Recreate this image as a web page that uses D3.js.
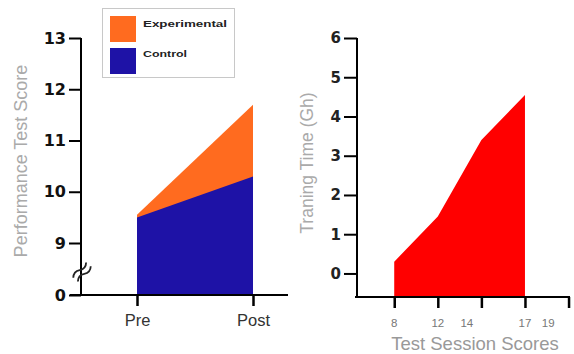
<!DOCTYPE html>
<html><head><meta charset="utf-8">
<script src="https://cdn.jsdelivr.net/npm/d3@7"></script>
<style>body{margin:0;background:#fff;} svg{display:block;font-family:"Liberation Sans",Arial,sans-serif;}</style>
</head><body>
<svg id="c" width="574" height="354"></svg>
<script>
// ---- Left chart data ----
const phases = ["Pre", "Post"];
const experimental = [9.55, 11.7];
const control = [9.5, 10.3];
const leftYTicks = [0, 9, 10, 11, 12, 13];
const legendLabels = ["Experimental", "Control"];
// ---- Right chart data ----
const sessionX = [8, 11, 14, 17];
const trainingTime = [0.3, 1.45, 3.4, 4.55];
const rightYTicks = [0, 1, 2, 3, 4, 5, 6];
const rightXTicks = [8, 11, 14, 17, 20];
const rightXLabelText = ["8", "12", "14", "17", "19"];
const rightXLabelAt = [8, 11, 13, 17, 18.6];

const colors = {exp: "#FF6B1F", ctrl: "#1E12A6", red: "#FF0000"};
const svg = d3.select("#c");
const boldFont = "'DejaVu Sans',sans-serif";

// ===== LEFT =====
const yL = d3.scaleLinear().domain([0, 9, 13]).range([295, 243, 38]);
const xL = d3.scalePoint().domain(phases).range([137, 253]);

const gL = svg.append("g");
const areaExp = d3.area().x((d,i)=>xL(phases[i])).y0(yL(0)).y1(d=>yL(d));
gL.append("path").datum(experimental).attr("d", areaExp).attr("fill", colors.exp);
gL.append("path").datum(control).attr("d", areaExp).attr("fill", colors.ctrl);

// y axis
const axL = gL.append("g").attr("transform","translate(81,0)")
  .call(d3.axisLeft(yL).tickValues(leftYTicks).tickFormat(d3.format("d")).tickSize(12).tickPadding(3).tickSizeOuter(0));
axL.select(".domain").attr("stroke-width",2).attr("d","M0,38V295");
axL.selectAll(".tick line").attr("stroke-width",2);
axL.selectAll(".tick text").attr("font-size",16).attr("font-weight","bold").attr("font-family",boldFont).attr("fill","#111");

// axis break mark
const brk = gL.append("g").attr("transform","translate(82,272) rotate(-50)");
[-3, 3].forEach(o=>{
  brk.append("path").attr("d",`M-10,${o} q5,-4 10,0 t10,0`).attr("fill","none").attr("stroke","#222").attr("stroke-width",1.8);
});

// x axis
const axLx = gL.append("g").attr("transform","translate(0,295)")
  .call(d3.axisBottom(xL).tickSize(11).tickPadding(8).tickSizeOuter(0));
axLx.select(".domain").attr("stroke-width",2).attr("d","M70,0H288");
axLx.selectAll(".tick line").attr("stroke-width",2.5);
axLx.selectAll(".tick text").attr("font-size",16.5).attr("fill","#333");

// y label
gL.append("text").attr("transform","translate(27,161) rotate(-90)")
  .attr("text-anchor","middle").attr("font-size",18).attr("fill","#aaa")
  .text("Performance Test Score");

// legend
const lg = gL.append("g");
lg.append("rect").attr("x",102.5).attr("y",8.5).attr("width",132).attr("height",69)
  .attr("fill","#fff").attr("stroke","#c8c8c8");
const legColors = [colors.exp, colors.ctrl];
const legW = [84, 44];
legendLabels.forEach((t,i)=>{
  lg.append("rect").attr("x",110).attr("y",16+i*32).attr("width",26).attr("height",26).attr("fill",legColors[i]);
  lg.append("text").attr("x",143).attr("y",27+i*30).attr("font-size",9).attr("font-weight","bold")
    .attr("textLength",legW[i]).attr("lengthAdjust","spacingAndGlyphs").attr("fill","#222").text(t);
});

// ===== RIGHT =====
const xR = d3.scaleLinear().domain([5.3, 20.1]).range([355, 570]);
const yR = d3.scaleLinear().domain([-0.6, 6]).range([297, 38]);
const gR = svg.append("g");
const areaR = d3.area().x((d,i)=>xR(sessionX[i])).y0(yR(-0.6)).y1(d=>yR(d));
gR.append("path").datum(trainingTime).attr("d", areaR).attr("fill", colors.red);

const axR = gR.append("g").attr("transform","translate(357,0)")
  .call(d3.axisLeft(yR).tickValues(rightYTicks).tickFormat(d3.format("d")).tickSize(13).tickPadding(3).tickSizeOuter(0));
axR.select(".domain").attr("stroke-width",2).attr("d","M0,38V297");
axR.selectAll(".tick line").attr("stroke-width",2);
axR.selectAll(".tick text").attr("font-size",15).attr("font-weight","bold").attr("font-family",boldFont).attr("fill","#222");

const axRx = gR.append("g").attr("transform","translate(0,297)")
  .call(d3.axisBottom(xR).tickValues(rightXTicks).tickFormat("").tickSize(11).tickSizeOuter(0));
axRx.select(".domain").attr("stroke-width",2).attr("d","M355,0H570");
axRx.selectAll(".tick line").attr("stroke-width",2.5);

gR.selectAll("text.xl").data(rightXLabelText).enter().append("text").attr("class","xl")
  .attr("x",(d,i)=>xR(rightXLabelAt[i])).attr("y",327).attr("text-anchor","middle")
  .attr("font-size",11.5).attr("fill","#777").text(d=>d);

gR.append("text").attr("x",475).attr("y",350).attr("text-anchor","middle")
  .attr("font-size",18.5).attr("fill","#999").text("Test Session Scores");

gR.append("text").attr("transform","translate(313,163) rotate(-90)")
  .attr("text-anchor","middle").attr("font-size",17.5).attr("fill","#aaa")
  .text("Traning Time (Gh)");
</script>
</body></html>
